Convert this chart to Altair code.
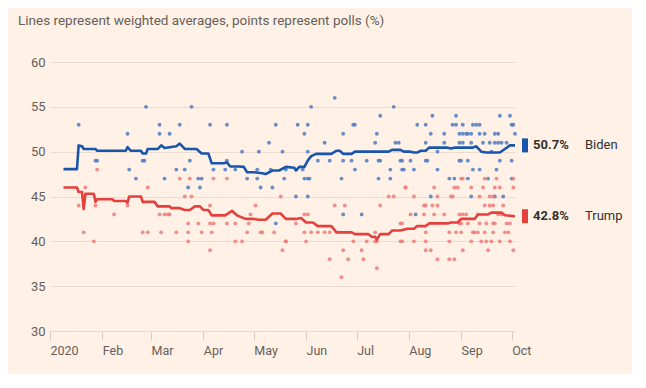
import altair as alt
import pandas as pd

START = pd.Timestamp("2020-01-01")

# ---- data (days are counted from 1 Jan 2020) ----
candidates = ["Biden", "Trump"]
end_values = [50.7, 42.8]
end_labels = ["50.7%", "42.8%"]
line_colors = ["#1a55ad", "#e5403d"]
point_colors = ["#4d7bc4", "#ee7b7b"]

y_ticks = [30, 35, 40, 45, 50, 55, 60]
month_ticks = [1, 2, 3, 4, 5, 6, 7, 8, 9, 10]

biden_avg_days = [8, 16, 17, 19, 20, 27, 28, 45, 46, 48, 54, 55, 57, 58, 64, 66, 68, 75, 77, 79,
                  80, 87, 90, 94, 96, 103, 105, 107, 112, 115, 117, 121, 126, 128, 132, 136, 140, 145, 146, 148,
                  151, 153, 155, 158, 167, 170, 172, 174, 179, 181, 192, 201, 203, 208, 210, 214, 216, 218, 220, 223,
                  225, 236, 238, 240, 251, 253, 256, 259, 267, 270, 273, 276]
biden_avg_vals = [48.05, 48.05, 50.7, 50.6, 50.3, 50.3, 50.1, 50.1, 50.5, 50.1, 50.1, 49.8, 49.8, 50.3, 50.3, 50.7, 50.4, 50.6, 50.9, 50.5,
                  50.3, 50.3, 49.8, 49.8, 48.7, 48.7, 48.8, 48.35, 48.35, 48.3, 47.7, 47.7, 47.6, 47.5, 47.9, 47.9, 48.3, 48.2, 47.9, 48.3,
                  48.3, 49.0, 49.5, 49.75, 49.75, 50.1, 50.1, 49.75, 49.75, 50.0, 50.0, 50.0, 50.2, 50.2, 50.0, 50.0, 49.9, 49.9, 50.1, 50.1,
                  50.45, 50.45, 50.35, 50.45, 50.45, 50.6, 50.0, 49.9, 49.9, 50.3, 50.7, 50.7]

trump_avg_days = [8, 16, 17, 19, 20, 21, 22, 26, 27, 28, 37, 38, 45, 46, 47, 54, 55, 62, 64, 71,
                  72, 77, 80, 83, 86, 89, 91, 94, 96, 104, 108, 111, 116, 121, 124, 128, 132, 137, 140, 146,
                  149, 152, 156, 159, 167, 170, 179, 181, 189, 191, 193, 194, 196, 201, 203, 208, 212, 216, 218, 223,
                  225, 236, 238, 242, 244, 252, 254, 260, 262, 268, 270, 276]
trump_avg_vals = [46.0, 46.0, 45.5, 45.5, 43.6, 45.3, 45.3, 45.3, 44.4, 44.7, 44.7, 44.5, 44.5, 44.3, 45.0, 45.0, 44.4, 44.4, 43.9, 43.9,
                  43.7, 43.7, 43.5, 43.5, 43.9, 43.9, 43.5, 43.5, 42.9, 42.9, 43.4, 42.9, 42.5, 42.5, 42.4, 42.4, 43.1, 43.1, 42.5, 42.5,
                  42.6, 42.1, 42.1, 41.7, 41.7, 41.0, 41.0, 40.8, 40.8, 40.5, 40.5, 40.2, 40.8, 40.8, 41.2, 41.2, 41.4, 41.4, 41.7, 41.7,
                  42.0, 42.0, 42.1, 42.1, 42.5, 42.5, 43.0, 43.0, 43.2, 43.2, 42.9, 42.8]

# individual polls: (day, value)
biden_polls = [
    (17, 53), (27, 49), (28, 49), (46, 52), (47, 48), (51, 47), (55, 49), (56, 49), (57, 55), (65, 53),
    (65, 52), (68, 47), (71, 52),
    (84, 55), (77, 53), (95, 53), (105, 53), (134, 53), (130, 51), (114, 50), (124, 50), (138, 50), (83, 49),
    (105, 49), (75, 48), (80, 48), (97, 48), (104, 48), (110, 48), (123, 48), (131, 48), (88, 47), (90, 47),
    (117, 47), (123, 47), (139, 47), (82, 46), (89, 46), (125, 46), (132, 46), (134, 42),
    (169, 56), (155, 55), (204, 55), (196, 54), (147, 53), (153, 53), (180, 53), (181, 53), (151, 52), (174, 52),
    (194, 52), (163, 51), (193, 51), (205, 51), (207, 51), (153, 50), (159, 49), (166, 49), (174, 49), (179, 49),
    (188, 49), (195, 49), (196, 49), (209, 49), (140, 48), (150, 48), (181, 48), (202, 48), (209, 48), (151, 47),
    (153, 47), (154, 47), (173, 47), (195, 47), (202, 47), (146, 45), (153, 45), (174, 43), (185, 43),
    (227, 54), (241, 54), (267, 54), (273, 54),
    (218, 53), (223, 53), (239, 53), (241, 53), (245, 53), (251, 53), (253, 53), (255, 53), (274, 53), (275, 53),
    (226, 52), (234, 52), (243, 52), (245, 52), (247, 52), (248, 52), (250, 52), (255, 52), (258, 52), (264, 52),
    (266, 52), (276, 52),
    (223, 51), (234, 51), (243, 51), (245, 51), (250, 51), (257, 51), (261, 51), (264, 51), (266, 51), (268, 51),
    (271, 51), (230, 50), (262, 50),
    (208, 49), (214, 49), (223, 49), (224, 49), (243, 49), (244, 49), (248, 49), (267, 49), (274, 49),
    (210, 48), (216, 48), (230, 48), (251, 48), (255, 48), (265, 48),
    (237, 47), (240, 47), (248, 47), (260, 47), (274, 47),
    (226, 45), (250, 45), (264, 45), (269, 45), (217, 43),
]

trump_polls = [
    (21, 46), (28, 48), (17, 44), (27, 44), (46, 44), (58, 46), (38, 43), (65, 43), (68, 43), (70, 43),
    (20, 41), (55, 41), (58, 41), (66, 41), (26, 40),
    (77, 47), (83, 47), (97, 47), (105, 47), (80, 45), (84, 45), (137, 45), (95, 44), (122, 44), (71, 43),
    (119, 43), (82, 42), (88, 42), (95, 42), (97, 42), (105, 42), (110, 42), (118, 42), (75, 41), (82, 41),
    (90, 41), (96, 41), (117, 41), (125, 41), (126, 41), (133, 41), (82, 40), (110, 40), (114, 40), (140, 40),
    (95, 39), (138, 39),
    (211, 46), (201, 45), (204, 45), (169, 44), (175, 44), (196, 44), (151, 43), (153, 43), (146, 42), (208, 42),
    (209, 42), (151, 41), (155, 41), (159, 41), (163, 41), (166, 41), (193, 41), (140, 40), (152, 40), (180, 40),
    (188, 40), (193, 40), (194, 40), (209, 40), (174, 39), (185, 39), (166, 38), (177, 38), (186, 38), (194, 37),
    (173, 36),
    (244, 47), (245, 47), (258, 47), (265, 47), (275, 47),
    (211, 46), (228, 46), (240, 46), (242, 46), (250, 46), (257, 46), (264, 46), (267, 46), (275, 46),
    (216, 45), (230, 45), (238, 45), (239, 45), (255, 45), (261, 45), (263, 45),
    (222, 44), (223, 44), (227, 44), (230, 44), (258, 44), (261, 44), (263, 44), (269, 44),
    (214, 43), (222, 43), (228, 43), (234, 43), (243, 43), (245, 43), (247, 43), (254, 43), (266, 43), (268, 43),
    (243, 42), (244, 42), (248, 42), (255, 42), (259, 42), (263, 42), (264, 42), (271, 42), (273, 42),
    (223, 41), (237, 41), (241, 41), (244, 41), (251, 41), (252, 41), (254, 41), (258, 41), (263, 41), (270, 41),
    (272, 41),
    (208, 40), (216, 40), (223, 40), (237, 40), (250, 40), (256, 40), (259, 40), (262, 40), (267, 40), (273, 40),
    (223, 39), (226, 39), (245, 39), (260, 39), (275, 39),
    (230, 38), (237, 38), (240, 38),
]

TITLE = "Lines represent weighted averages, points represent polls (%)"


def to_date(days):
    return [START + pd.Timedelta(days=int(d)) for d in days]


avg_data = {
    "Biden": pd.DataFrame({"date": to_date(biden_avg_days), "value": biden_avg_vals}),
    "Trump": pd.DataFrame({"date": to_date(trump_avg_days), "value": trump_avg_vals}),
}
poll_data = {
    "Biden": pd.DataFrame({"date": to_date([p[0] for p in biden_polls]), "value": [p[1] for p in biden_polls]}),
    "Trump": pd.DataFrame({"date": to_date([p[0] for p in trump_polls]), "value": [p[1] for p in trump_polls]}),
}
last_date = max(biden_avg_days[-1], trump_avg_days[-1])
end_df = pd.DataFrame({
    "date": to_date([last_date, last_date]),
    "value": end_values,
    "label": end_labels,
    "name": candidates,
})

FONT = "Roboto"
TEXT_GREY = "#66605c"
DARK = "#33302e"

x_enc = alt.X(
    "date:T",
    scale=alt.Scale(domain=[alt.DateTime(year=2020, month=1, date=1), alt.DateTime(year=2020, month=10, date=3)]),
    axis=alt.Axis(
        values=[alt.DateTime(year=2020, month=m, date=1) for m in month_ticks],
        labelExpr="month(datum.value) == 0 ? '2020' : timeFormat(datum.value, '%b')",
        labelAlign="left",
        labelPadding=4,
        tickSize=9,
        tickColor="#d8cdc3",
        domainColor="#e6dacf",
        grid=False,
        title=None,
        labelFont=FONT,
        labelFontSize=12.5,
        labelColor=TEXT_GREY,
    ),
)
y_enc = alt.Y(
    "value:Q",
    scale=alt.Scale(domain=[30, 60]),
    axis=alt.Axis(
        values=y_ticks,
        grid=True,
        gridColor="#eaddd0",
        domain=False,
        ticks=False,
        labelPadding=5,
        title=None,
        labelFont=FONT,
        labelFontSize=13,
        labelColor=TEXT_GREY,
    ),
)

layers = []
for name, pc in zip(candidates, point_colors):
    layers.append(
        alt.Chart(poll_data[name]).mark_circle(size=15, opacity=0.85).encode(
            x=x_enc, y=y_enc, color=alt.value(pc)
        )
    )
for name, lc in zip(candidates, line_colors):
    layers.append(
        alt.Chart(avg_data[name]).mark_line(strokeWidth=2.6, strokeJoin="round").encode(
            x=x_enc, y=y_enc, color=alt.value(lc)
        )
    )

color_scale = alt.Scale(domain=candidates, range=line_colors)
marker = alt.Chart(end_df).mark_point(
    shape="M-0.43,-1H0.43V1H-0.43Z", filled=True, size=196, opacity=1, xOffset=10
).encode(x=x_enc, y=y_enc, color=alt.Color("name:N", scale=color_scale, legend=None))
pct = alt.Chart(end_df).mark_text(
    align="left", baseline="middle", dx=18, font=FONT, fontSize=13, fontWeight="bold", color=DARK
).encode(x=x_enc, y=y_enc, text="label:N")
nm = alt.Chart(end_df).mark_text(
    align="left", baseline="middle", dx=70, font=FONT, fontSize=13, color=DARK
).encode(x=x_enc, y=y_enc, text="name:N")

chart = alt.layer(*layers, marker, pct, nm).properties(
    width=465,
    height=269,
    title=alt.TitleParams(
        TITLE, anchor="start", frame="group", dx=-32, offset=29,
        font=FONT, fontSize=13.5, fontWeight="normal", color=TEXT_GREY,
    ),
    autosize=alt.AutoSizeParams(type="none"),
    padding={"left": 42, "top": 54, "right": 117, "bottom": 43},
    background="#fff1e5",
).configure_view(stroke=None)

chart.save("out.html", embed_options={"renderer": "svg", "actions": False})
